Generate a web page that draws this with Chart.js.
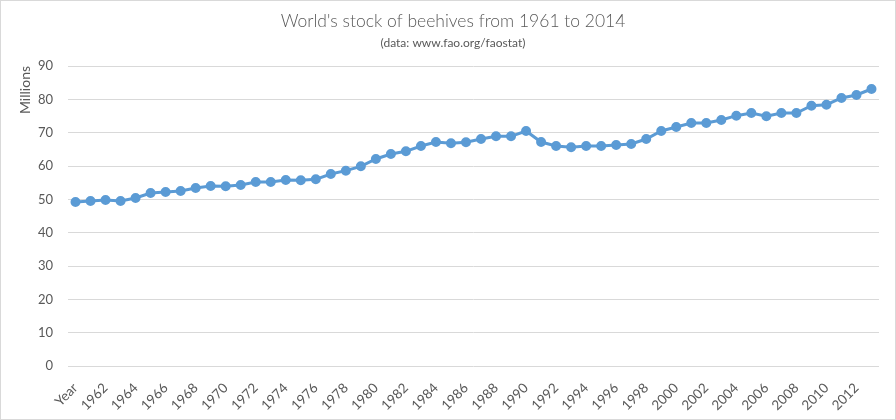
<!DOCTYPE html>
<html>
<head>
<meta charset="utf-8">
<script src="https://cdn.jsdelivr.net/npm/chart.js@4"></script>
<style>
  html, body { margin: 0; padding: 0; background: #fff; }
  #wrap { position: relative; width: 894px; height: 418px; border: 1px solid #d9d9d9; }
</style>
</head>
<body>
<div id="wrap"><canvas id="myChart"></canvas></div>
<script>
// categories (the first label is "Year" in the original sheet)
let years = ["Year"];
for (let y = 1961; y <= 2013; y++) years.push(String(y));

// beehives, millions
let hives = [
  49.2, 49.5, 49.8, 49.5, 50.4, 51.9, 52.2, 52.5, 53.4, 54.0,
  53.9, 54.3, 55.2, 55.2, 55.8, 55.7, 56.0, 57.6, 58.6, 59.9,
  62.1, 63.6, 64.4, 66.0, 67.2, 66.8, 67.1, 68.1, 68.9, 68.9,
  70.5, 67.2, 66.0, 65.6, 66.0, 66.0, 66.3, 66.6, 68.1, 70.5,
  71.7, 72.9, 72.9, 73.8, 75.1, 75.9, 74.9, 75.9, 75.9, 78.1,
  78.4, 80.4, 81.3, 83.1
];

let yTicks = [0, 10, 20, 30, 40, 50, 60, 70, 80, 90];

let chartTitle = "World's stock of beehives from 1961 to 2014";
let chartSubtitle = "(data: www.fao.org/faostat)";

// title + subtitle centred on the whole canvas, not the padded area
const headings = {
  id: "headings",
  afterDraw(chart) {
    const c = chart.ctx;
    const mid = chart.width / 2 + 5;
    c.save();
    c.fillStyle = "#595959";
    c.textAlign = "center";
    c.textBaseline = "middle";
    c.font = "300 17.5px Lato";
    c.fillText(chartTitle, mid, 20);
    c.font = "12px Lato";
    c.fillText(chartSubtitle, mid, 42);
    c.restore();
  },
};

let ctx = document.getElementById("myChart").getContext("2d");

let myChart = new Chart(ctx, {
  type: "line",
  data: {
    labels: years,
    datasets: [
      {
        label: "Beehives",
        data: hives,
        borderColor: "#5b9bd5",
        backgroundColor: "#5b9bd5",
        borderWidth: 3,
        pointRadius: 3.5,
        pointHoverRadius: 4,
        tension: 0,
      },
    ],
  },
  plugins: [headings],
  options: {
    responsive: true,
    maintainAspectRatio: false,
    animation: false,
    layout: { padding: { top: 65, right: 16, bottom: 0, left: 0 } },
    plugins: {
      legend: { display: false },
      tooltip: { enabled: false },
    },
    scales: {
      x: {
        offset: true,
        grid: { display: false }, // only horizontal lines
        border: { display: false },
        afterFit: function (scale) {
          scale.height = 53;
        },
        ticks: {
          autoSkip: false,
          maxRotation: 45,
          minRotation: 45,
          padding: 6,
          color: "#595959",
          font: { family: "Lato", size: 13.5 },
          callback: function (val, i) {
            return i % 2 === 0 ? years[i] : "";
          },
        },
      },
      y: {
        min: 0,
        max: 90,
        afterBuildTicks: function (scale) {
          scale.ticks = yTicks.map((v) => ({ value: v }));
        },
        afterFit: function (scale) {
          scale.width = 67;
        },
        grid: { color: "#d9d9d9", drawTicks: false },
        border: { display: false },
        ticks: {
          padding: 15,
          color: "#595959",
          font: { family: "Lato", size: 13 },
        },
        title: {
          display: true,
          text: "Millions",
          align: "end",
          color: "#595959",
          font: { family: "Lato", size: 14 },
          padding: { top: 16, bottom: 0 },
        },
      },
    },
  },
});
</script>
</body>
</html>
